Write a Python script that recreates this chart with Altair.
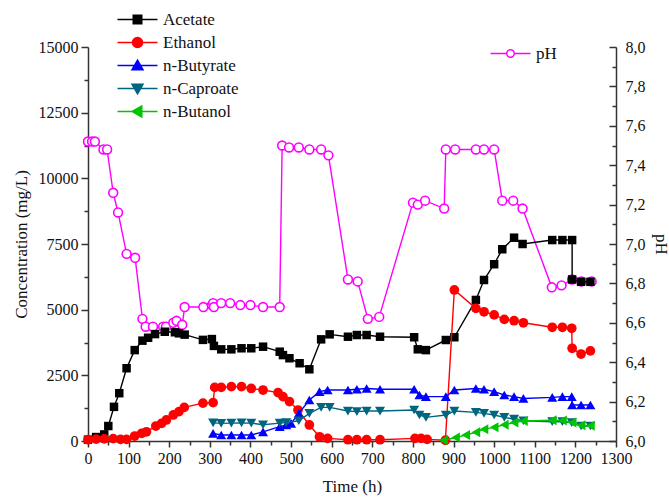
import altair as alt
import pandas as pd

FONT = "'Liberation Serif', 'Times New Roman', Times, serif"

# ---------------- data ----------------
ace_t = [0, 20, 40, 50, 64, 77, 95, 115, 134, 148, 165, 189, 214, 224, 238, 283, 305, 310, 328, 353,
         378, 402, 431, 472, 480, 496, 521, 545, 574, 595, 640, 662, 686, 719, 803, 812, 832, 881, 902, 955,
         975, 1000, 1020, 1049, 1070, 1143, 1168, 1192, 1192, 1214, 1237]
ace_c = [50, 150, 250, 570, 1300, 1820, 2770, 3460, 3820, 3930, 4070, 4160, 4140, 4100, 4050, 3850, 3880, 3620, 3490, 3490,
         3530, 3530, 3590, 3400, 3270, 3150, 2960, 2730, 3870, 4060, 3970, 4035, 4035, 3970, 3950, 3490, 3460, 3845, 3950, 5370,
         6130, 6730, 7300, 7740, 7500, 7650, 7650, 7650, 6150, 6060, 6060]

eth_t = [0, 20, 40, 62, 80, 95, 115, 132, 144, 167, 181, 193, 210, 224, 237, 283, 308, 312, 328, 353,
         378, 402, 431, 468, 480, 496, 517, 545, 570, 590, 640, 662, 686, 719, 805, 820, 835, 880, 902, 955,
         975, 1000, 1025, 1049, 1072, 1143, 1168, 1191, 1192, 1214, 1237]
eth_c = [50, 70, 80, 90, 60, 60, 190, 290, 350, 570, 670, 800, 990, 1120, 1280, 1440, 1460, 2040, 2040, 2070,
         2070, 2000, 1940, 1840, 1690, 1500, 1180, 610, 160, 100, 50, 50, 50, 50, 100, 100, 60, 30, 5750, 5050,
         4920, 4800, 4630, 4580, 4500, 4330, 4330, 4290, 3530, 3310, 3430]

but_t = [308, 328, 353, 378, 402, 431, 472, 488, 500, 519, 545, 570, 590, 640, 662, 686, 719, 803, 816, 832,
         881, 902, 955, 975, 1000, 1025, 1049, 1072, 1143, 1168, 1191, 1192, 1214, 1237]
but_c = [290, 230, 230, 230, 230, 350, 545, 610, 670, 1050, 1560, 1880, 1940, 1940, 1970, 2000, 1970, 1970, 1750, 1690,
         1690, 1940, 2000, 1970, 1880, 1750, 1690, 1620, 1660, 1690, 1690, 1370, 1370, 1370]

cap_t = [308, 328, 353, 378, 402, 431, 472, 488, 519, 545, 574, 595, 640, 662, 686, 719, 803, 816, 832, 881,
         902, 955, 975, 1000, 1025, 1049, 1072, 1143, 1168, 1191, 1214, 1237]
cap_c = [690, 670, 680, 690, 680, 620, 680, 700, 770, 1050, 1280, 1280, 1140, 1120, 1140, 1140, 1180, 990, 900, 990,
         1140, 1090, 1050, 990, 900, 830, 770, 735, 735, 700, 570, 570]

bol_t = [875, 905, 930, 955, 975, 1000, 1025, 1049, 1072, 1143, 1168, 1192, 1214, 1237]
bol_c = [30, 130, 230, 330, 450, 520, 620, 700, 760, 790, 780, 700, 600, 580]

ph_t = [0, 10, 17, 38, 47, 62, 74, 95, 116, 134, 142, 160, 185, 192, 210, 218, 232, 238, 284, 305,
        308, 310, 328, 350, 375, 400, 431, 472, 478, 495, 519, 545, 574, 592, 640, 664, 689, 717, 800, 812,
        830, 877, 881, 904, 955, 975, 1000, 1020, 1047, 1070, 1142, 1166, 1192, 1215, 1240]
ph_v = [7.52, 7.52, 7.52, 7.48, 7.48, 7.26, 7.16, 6.95, 6.93, 6.62, 6.58, 6.58, 6.58, 6.58, 6.60, 6.61, 6.59, 6.68, 6.68, 6.69,
        6.70, 6.68, 6.70, 6.70, 6.69, 6.69, 6.68, 6.68, 7.50, 7.49, 7.49, 7.48, 7.48, 7.45, 6.82, 6.81, 6.62, 6.63, 7.21, 7.20,
        7.22, 7.18, 7.48, 7.48, 7.48, 7.48, 7.48, 7.22, 7.22, 7.18, 6.78, 6.79, 6.82, 6.81, 6.81]

series_names = ["Acetate", "Ethanol", "n-Butyrate", "n-Caproate", "n-Butanol"]
series_colors = ["#000000", "#ff0000", "#0000ff", "#00667f", "#00c400"]
series_shapes = ["square", "circle", "triangle-up", "triangle-down", "triangle-left"]
series_sizes = [72, 95, 100, 100, 100]
legend_paths = [
    "M-4,0H4M-0.85,-0.85H0.85V0.85H-0.85Z",
    "M-4,0H4M1,0A1,1,0,1,1,-1,0A1,1,0,1,1,1,0Z",
    "M-4,0H4M0,-1.05L1.1,0.85H-1.1Z",
    "M-4,0H4M0,1.05L1.1,-0.85H-1.1Z",
    "M-4,0H4M-1.05,0L0.85,-1.1V1.1Z",
]
ph_name = "pH"
ph_color = "#ff00ff"
ph_path = "M-4,0H-0.75M0.75,0H4M0.75,0A0.75,0.75,0,1,1,-0.75,0A0.75,0.75,0,1,1,0.75,0Z"

rows = []
for name, ts, cs in zip(series_names, [ace_t, eth_t, but_t, cap_t, bol_t],
                        [ace_c, eth_c, but_c, cap_c, bol_c]):
    for i, (t, c) in enumerate(zip(ts, cs)):
        rows.append({"series": name, "t": t, "c": c, "idx": i})
conc_df = pd.DataFrame(rows)
ph_df = pd.DataFrame({"t": ph_t, "ph": ph_v, "idx": list(range(len(ph_t))), "series": ph_name})

# ---------------- axes ----------------
axis_common = dict(labelFont=FONT, titleFont=FONT, labelFontSize=16, titleFontSize=17,
                   labelColor="#111111", titleColor="#111111", titleFontWeight="normal",
                   domainColor="#333333", domainWidth=1.5, tickColor="#333333", tickWidth=1.5,
                   grid=False, labelFlush=False, labelOverlap=False)

x_axis = alt.Axis(title="Time (h)", values=list(range(0, 1301, 50)), format="d",
                  labelExpr="datum.value % 100 == 0 ? datum.label : ''",
                  tickSize={"condition": {"test": "datum.value % 100 == 0", "value": 6}, "value": 4},
                  labelPadding=3, titlePadding=12, **axis_common)
conc_axis = alt.Axis(title="Concentration (mg/L)", orient="left", values=list(range(0, 15001, 1250)),
                     format="d", labelExpr="datum.value % 2500 == 0 ? datum.label : ''",
                     tickSize={"condition": {"test": "datum.value % 2500 == 0", "value": 7}, "value": 4},
                     labelPadding=3, titlePadding=8, **axis_common)
ph_axis = alt.Axis(title="pH", orient="right", values=[round(6 + 0.1 * i, 1) for i in range(21)],
                   labelExpr="round(datum.value*10) % 2 == 0 ? replace(format(datum.value, '.1f'), '.', ',') : ''",
                   tickSize={"condition": {"test": "round(datum.value*10) % 2 == 0", "value": -7}, "value": -4},
                   labelPadding=16, titlePadding=6, titleAngle=90, **axis_common)

x_enc = alt.X("t:Q", scale=alt.Scale(domain=[0, 1300], nice=False, zero=False), axis=x_axis)
y_conc = alt.Y("c:Q", scale=alt.Scale(domain=[0, 15000], nice=False), axis=conc_axis)
y_ph = alt.Y("ph:Q", scale=alt.Scale(domain=[6, 8], nice=False, zero=False), axis=ph_axis)

# ---------------- pH layers ----------------
ph_base = alt.Chart(ph_df)
ph_line = ph_base.mark_line(color=ph_color, strokeWidth=1.4).encode(x=x_enc, y=y_ph, order="idx:Q")
ph_pts = ph_base.mark_point(shape="circle", size=78, color=ph_color, fill="white", filled=False,
                            strokeWidth=1.6, opacity=1).encode(x=x_enc, y=y_ph)
leg_ph_def = alt.Legend(orient="none", legendX=414, legendY=-2, title=None, padding=0,
                        symbolSize=100, labelOffset=17, labelFont=FONT, labelFontSize=17,
                        labelColor="#111111", symbolStrokeWidth=1.5, symbolFillColor="white")
ph_leg = ph_base.transform_filter("false").mark_point(strokeWidth=1.5, opacity=1, fill="white").encode(
    x=x_enc, y=y_ph,
    stroke=alt.Stroke("series:N", scale=alt.Scale(domain=[ph_name], range=[ph_color]), legend=leg_ph_def),
    shape=alt.Shape("series:N", scale=alt.Scale(domain=[ph_name], range=[ph_path]), legend=leg_ph_def),
)
ph_group = alt.layer(ph_line, ph_pts, ph_leg)

# ---------------- concentration layers ----------------
conc_base = alt.Chart(conc_df)
layers = []
for name, col, shp, sz in zip(series_names, series_colors, series_shapes, series_sizes):
    sub = conc_base.transform_filter(alt.datum.series == name)
    layers.append(sub.mark_line(color=col, strokeWidth=1.4).encode(x=x_enc, y=y_conc, order="idx:Q"))
    layers.append(sub.mark_point(shape=shp, size=sz, color=col, filled=True, opacity=1).encode(x=x_enc, y=y_conc))

leg_conc_def = alt.Legend(orient="none", legendX=41, legendY=-36, title=None, padding=0,
                          symbolSize=100, labelOffset=17, rowPadding=5, labelFont=FONT, labelFontSize=17,
                          labelColor="#111111", symbolStrokeWidth=1.5)
conc_leg = conc_base.transform_filter("false").mark_point(strokeWidth=1.5, opacity=1, filled=True).encode(
    x=x_enc, y=y_conc,
    fill=alt.Fill("series:N", scale=alt.Scale(domain=series_names, range=series_colors), legend=leg_conc_def),
    stroke=alt.Stroke("series:N", scale=alt.Scale(domain=series_names, range=series_colors), legend=leg_conc_def),
    shape=alt.Shape("series:N", scale=alt.Scale(domain=series_names, range=legend_paths), legend=leg_conc_def),
)
layers.append(conc_leg)
conc_group = alt.layer(*layers)

chart = alt.layer(ph_group, conc_group).resolve_scale(
    y="independent", stroke="independent", fill="independent", shape="independent"
).properties(
    width=528, height=394,
    padding={"left": 88, "top": 47, "right": 53, "bottom": 58},
    autosize=alt.AutoSizeParams(type="none"),
).configure_view(stroke=None)

chart.save("out.html", embed_options={"renderer": "svg", "actions": False})
